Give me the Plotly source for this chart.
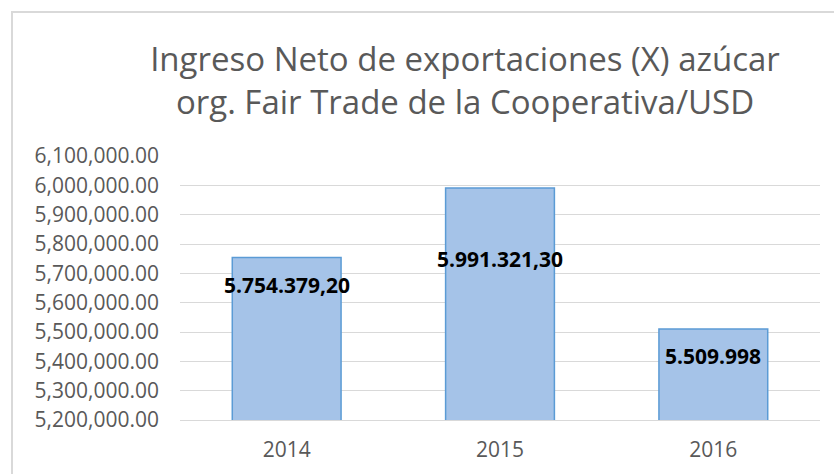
import plotly.graph_objects as go

years = ["2014", "2015", "2016"]
values = [5754379.20, 5991321.30, 5509998]
value_labels = ["5.754.379,20", "5.991.321,30", "5.509.998"]
title_lines = ["Ingreso Neto de exportaciones (X) azúcar", "org. Fair Trade de la Cooperativa/USD"]

W, H = 834, 474
ML, MR, MT, MB = 180, 14, 156, 54
PW, PH = W - ML - MR, H - MT - MB

def px_to_paper_x(px):
    return (px - ML) / PW

def px_to_paper_y(py):
    return (H - MB - py) / PH

fig = go.Figure()
fig.add_trace(go.Bar(
    x=years, y=values, base=0,
    marker=dict(color="#a5c3e8", line=dict(color="#5b9bd5", width=1.5)),
    hoverinfo="skip",
))

label_shift = [-28, -71, -27]
for i, (v, lab, sh) in enumerate(zip(values, value_labels, label_shift)):
    fig.add_annotation(x=i, y=v, text=f"<b>{lab}</b>", showarrow=False,
                       yshift=sh, xanchor="center", yanchor="middle",
                       font=dict(family="Open Sans", size=21, color="#000000"))

# chart area border (partially visible)
fig.add_shape(type="rect", xref="paper", yref="paper",
              x0=px_to_paper_x(12), y0=-1, x1=2, y1=px_to_paper_y(12),
              line=dict(color="#d9d9d9", width=2), fillcolor="rgba(0,0,0,0)", layer="below")

fig.update_layout(
    width=W, height=H,
    margin=dict(l=ML, r=MR, t=MT, b=MB, autoexpand=False),
    paper_bgcolor="white", plot_bgcolor="white",
    bargap=0.49,
    showlegend=False,
    title=dict(text="<br>".join(title_lines), x=465 / W, xanchor="center",
               y=1 - 71 / H, yanchor="top", yref="container", automargin=False,
               font=dict(family="Open Sans", size=33, color="#595959")),
    xaxis=dict(type="category", categoryorder="array", categoryarray=years,
               range=[-0.5, len(years) - 0.5], autorange=False,
               showgrid=False, showline=True, linecolor="#d9d9d9", linewidth=1,
               ticks="", ticklabelstandoff=11, automargin=False,
               tickfont=dict(family="Open Sans", size=21, color="#595959")),
    yaxis=dict(range=[5200000, 6100000], autorange=False, dtick=100000, tickformat=",.2f",
               showgrid=True, gridcolor="#d9d9d9", gridwidth=1, zeroline=False,
               showline=False, ticks="", ticklabelstandoff=20, automargin=False,
               tickfont=dict(family="Open Sans", size=21, color="#595959")),
)

fig.write_html("out.html", config={"displayModeBar": False},
               post_script="document.body.style.margin='0';")
